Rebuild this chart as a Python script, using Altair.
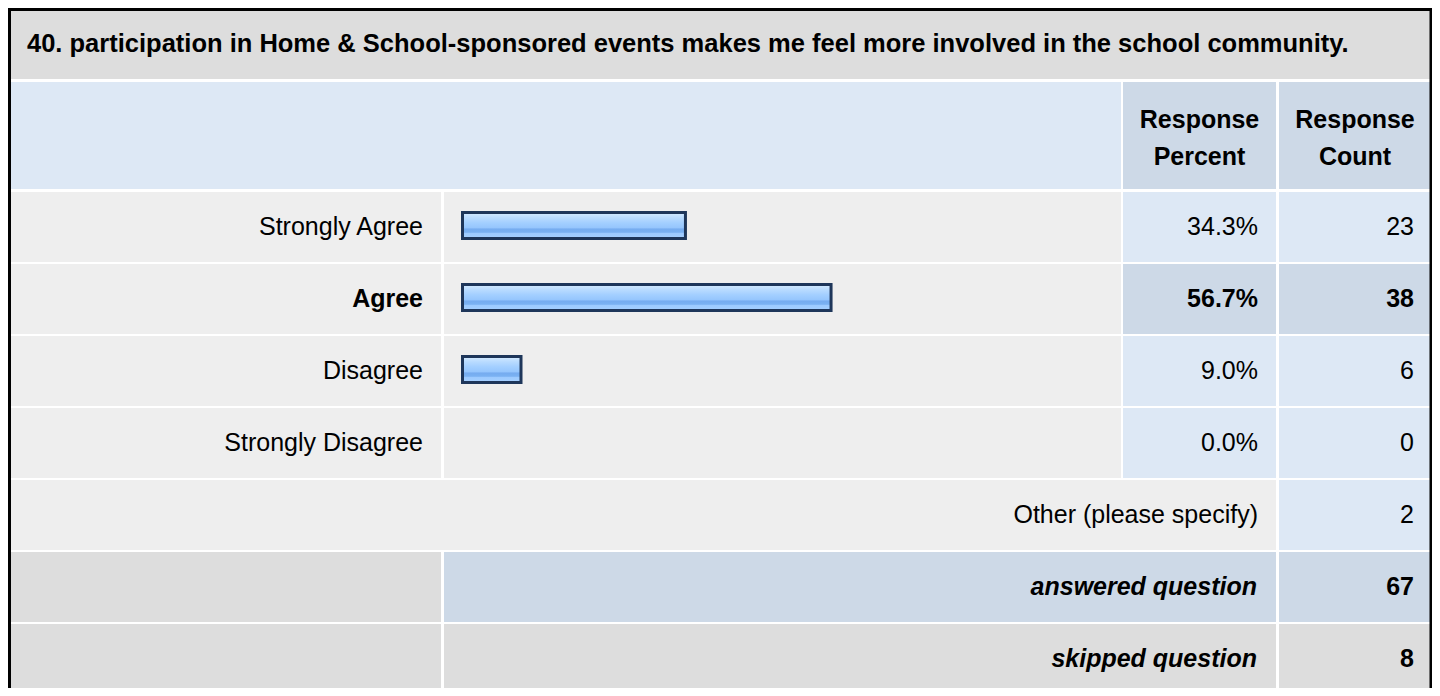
import altair as alt
import pandas as pd

# ---------------- data ----------------
TITLE = "40. participation in Home & School-sponsored events makes me feel more involved in the school community."
HEADER_PERCENT = ["Response", "Percent"]
HEADER_COUNT = ["Response", "Count"]
categories = ["Strongly Agree", "Agree", "Disagree", "Strongly Disagree"]
percents = [34.3, 56.7, 9.0, 0.0]
counts = [23, 38, 6, 0]
highlighted = ["Agree"]
other_label = "Other (please specify)"
other_count = 2
summary_labels = ["answered question", "skipped question"]
summary_counts = [67, 8]

# ---------------- layout (page px) ----------------
M = 8                          # page margin
W, H = 1440 - 2 * M, 696 - 2 * M   # drawing area (fits the window exactly)
L0, L1 = 9, 441            # label column
B0, B1 = 444, 1121         # bar column
P0, P1 = 1123, 1276        # percent column
C0, C1 = 1279, 1431        # count column
ROW0, STEP, RH = 192, 72, 70
LABEL_RX, PCT_RX, CNT_RX = 423, 1258, 1414

GREY, LIGHT, BLUE, BLUE2 = "#dddddd", "#eeeeee", "#dde8f5", "#cdd9e7"
FONT = "Liberation Sans"
FS = 25

def v(p):
    return p - M

cells = []
def cell(x0, x1, y0, y1, fill):
    cells.append(dict(x=v(x0), x2=v(x1), y=v(y0), y2=v(y1), fill=fill))

cell(L0, C1, 9, 79, GREY)
cell(L0, B1, 82, 189, BLUE)
cell(P0, P1, 82, 189, BLUE2)
cell(C0, C1, 82, 189, BLUE2)

texts = []
def text(x, y, s, style):
    texts.append(dict(x=v(x), y=v(y), t=s, style=style))

text(27, 44, TITLE, "title")
for j, s in enumerate(HEADER_PERCENT):
    text((P0 + P1) / 2, 120 + 37 * j, s, "head")
for j, s in enumerate(HEADER_COUNT):
    text((C0 + C1) / 2, 120 + 37 * j, s, "head")

bars = []
for i, (c, p, n) in enumerate(zip(categories, percents, counts)):
    y0 = ROW0 + STEP * i
    hl = c in highlighted
    cell(L0, L1, y0, y0 + RH, LIGHT)
    cell(B0, B1, y0, y0 + RH, LIGHT)
    cell(P0, P1, y0, y0 + RH, BLUE2 if hl else BLUE)
    cell(C0, C1, y0, y0 + RH, BLUE2 if hl else BLUE)
    st = "bold" if hl else "normal"
    yc = y0 + 35
    text(LABEL_RX, yc, c, st)
    text(PCT_RX, yc, f"{p:.1f}%", st)
    text(CNT_RX, yc, str(n), st)
    if p > 0:
        bars.append(dict(cat=c, start=0.0, pct=p, y=v(y0 + 20.5), y2=v(y0 + 46.5)))

y0 = ROW0 + STEP * 4
cell(L0, P1, y0, y0 + RH, LIGHT)
cell(C0, C1, y0, y0 + RH, BLUE)
text(PCT_RX, y0 + 35, other_label, "normal")
text(CNT_RX, y0 + 35, str(other_count), "normal")

sum_fills = [(BLUE2, BLUE2), (GREY, GREY)]
for k, (lab, n) in enumerate(zip(summary_labels, summary_counts)):
    y0 = ROW0 + STEP * (5 + k)
    cell(L0, L1, y0, y0 + RH, GREY)
    cell(B0, P1, y0, y0 + RH, sum_fills[k][0])
    cell(C0, C1, y0, y0 + RH, sum_fills[k][1])
    text(PCT_RX - 1, y0 + 35, lab, "bolditalic")
    text(CNT_RX, y0 + 35, str(n), "bold")

cells_df = pd.DataFrame(cells)
texts_df = pd.DataFrame(texts)
bars_df = pd.DataFrame(bars)
frame_df = pd.DataFrame([dict(x=1.5, x2=W - 1, y=1.5, y2=H + 10)])

XS = alt.Scale(domain=[0, W], range=[0, W], nice=False, zero=False)
YS = alt.Scale(domain=[0, H], range=[0, H], nice=False, zero=False)

def X(f="x"):
    return alt.X(f"{f}:Q", scale=XS, axis=None)

def Y(f="y"):
    return alt.Y(f"{f}:Q", scale=YS, axis=None)

cell_layer = alt.Chart(cells_df).mark_rect(strokeWidth=0).encode(
    x=X(), x2="x2:Q", y=Y(), y2="y2:Q", fill=alt.Fill("fill:N", scale=None)
)

frame_layer = alt.Chart(frame_df).mark_rect(
    fill=None, filled=False, stroke="#000000", strokeWidth=3
).encode(x=X(), x2="x2:Q", y=Y(), y2="y2:Q")

grad = alt.Gradient(
    gradient="linear",
    stops=[
        alt.GradientStop(color="#d6ecff", offset=0.0),
        alt.GradientStop(color="#b9dbff", offset=0.2),
        alt.GradientStop(color="#a3cfff", offset=0.4),
        alt.GradientStop(color="#96c6fd", offset=0.58),
        alt.GradientStop(color="#76acf0", offset=0.64),
        alt.GradientStop(color="#7ab1f2", offset=0.76),
        alt.GradientStop(color="#9ccaff", offset=0.8),
        alt.GradientStop(color="#a6d0ff", offset=1.0),
    ],
    x1=0, x2=0, y1=0, y2=1,
)

bar_layer = alt.Chart(bars_df).mark_rect(
    fill=grad, stroke="#1e365a", strokeWidth=3
).encode(
    x=alt.X("start:Q", scale=alt.Scale(domain=[0, 100], range=[v(462.5), v(1112.5)], nice=False), axis=None),
    x2="pct:Q",
    y=Y(), y2="y2:Q",
    tooltip=["cat:N", "pct:Q"],
)

def text_layer(style, align, weight="normal", fstyle="normal", size=FS):
    return alt.Chart(texts_df).transform_filter(
        alt.datum.style == style
    ).mark_text(
        align=align, baseline="middle", font=FONT, fontSize=size,
        fontWeight=weight, fontStyle=fstyle, color="#000000",
    ).encode(x=X(), y=Y(), text="t:N")

chart = alt.layer(
    cell_layer,
    bar_layer,
    text_layer("title", "left", "bold", size=25.5),
    text_layer("head", "center", "bold"),
    text_layer("normal", "right"),
    text_layer("bold", "right", "bold"),
    text_layer("bolditalic", "right", "bold", "italic"),
    frame_layer,
).resolve_scale(x="independent").properties(
    width=W, height=H, padding=0,
    autosize=alt.AutoSizeParams(type="none"),
    background="#ffffff",
).configure_view(stroke=None)

chart.save("out.html", embed_options={"renderer": "svg", "actions": False})
